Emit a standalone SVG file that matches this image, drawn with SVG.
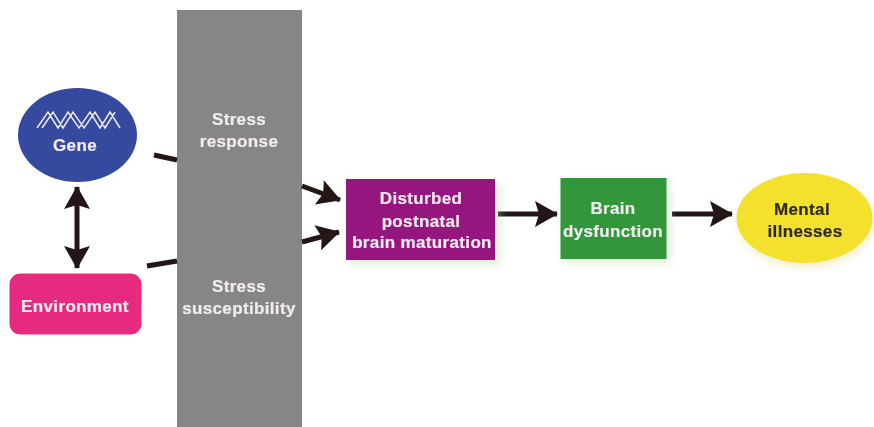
<svg xmlns="http://www.w3.org/2000/svg" width="874" height="427" viewBox="0 0 874 427">
<style>
text{font-family:"Liberation Sans",Arial,sans-serif;font-weight:bold;font-size:17px;letter-spacing:.35px;text-anchor:middle;fill:#f2ecf0;stroke:#f2ecf0;stroke-width:.2px}
.c{fill:none;stroke:#231815;stroke-width:5}
.h{fill:#231815;stroke:none}
.b{filter:url(#soft)}
.dark{fill:#2e2a14;stroke:#2e2a14}
</style>
<defs>
<filter id="glow" x="-15%" y="-15%" width="135%" height="140%"><feGaussianBlur stdDeviation="5"/></filter>
<filter id="soft" x="-5%" y="-5%" width="110%" height="110%"><feGaussianBlur stdDeviation="0.55"/></filter>
<marker id="ah" viewBox="0 0 26 28" refX="24" refY="14" markerWidth="26" markerHeight="28" markerUnits="userSpaceOnUse" orient="auto-start-reverse"><path class="h" d="M2 1L25 14L2 27L6 14Z"/></marker>
</defs>
<g id="stress-bar" class="b">
<rect x="177" y="10" width="125" height="417" fill="#868686"/>
<text x="239" y="125">Stress</text><text x="239" y="147">response</text>
<text x="239" y="292">Stress</text><text x="239" y="314">susceptibility</text>
</g>
<g id="connectors" class="b">
<path class="c" d="M154 155L177 160"/>
<path class="c" d="M147 266L177 261"/>
<path class="c" d="M302 186L340 200" marker-end="url(#ah)"/>
<path class="c" d="M302 242L339 232" marker-end="url(#ah)"/>
<path class="c" d="M498 214L557 214" marker-end="url(#ah)"/>
<path class="c" d="M672 214L732 214" marker-end="url(#ah)"/>
<path class="c" d="M77 187L77 268" marker-start="url(#ah)" marker-end="url(#ah)"/>
</g>
<g id="gene" class="b">
<ellipse cx="77.500" cy="135" rx="59.500" ry="47" fill="#36489f"/>
<path d="M37 128L48 112L58 128L68 112L79 128L90 112L100 128L110 112L120 128M42 128L53 112L63 128L73 112L84 128L95 112L105 128L115 112" fill="none" stroke="#e8e8f2" stroke-width="1.500"/>
<text x="75" y="151">Gene</text>
</g>
<g id="environment" class="b">
<rect x="9.500" y="273.500" width="132" height="61" rx="11" fill="#e62a80"/>
<text x="75" y="312">Environment</text>
</g>
<g id="maturation" class="b">
<rect x="350" y="184" width="150" height="81" fill="#bcd8a0" opacity=".45" filter="url(#glow)"/>
<rect x="346" y="179" width="149" height="81" fill="#95177f"/>
<text x="421" y="204">Disturbed</text><text x="421" y="227">postnatal</text><text x="422" y="248">brain maturation</text>
</g>
<g id="dysfunction" class="b">
<rect x="564" y="182" width="106" height="81" fill="#bcd8a0" opacity=".45" filter="url(#glow)"/>
<rect x="560.500" y="178" width="106" height="81" fill="#30973a"/>
<text x="613" y="214">Brain</text><text x="613" y="237">dysfunction</text>
</g>
<g id="mental" class="b">
<ellipse cx="806" cy="222" rx="68" ry="45" fill="#e6dc90" opacity=".5" filter="url(#glow)"/>
<ellipse cx="804.500" cy="218" rx="68" ry="45" fill="#f3e12d"/>
<text x="802" y="215" class="dark">Mental</text><text x="805" y="237" class="dark">illnesses</text>
</g>
</svg>
